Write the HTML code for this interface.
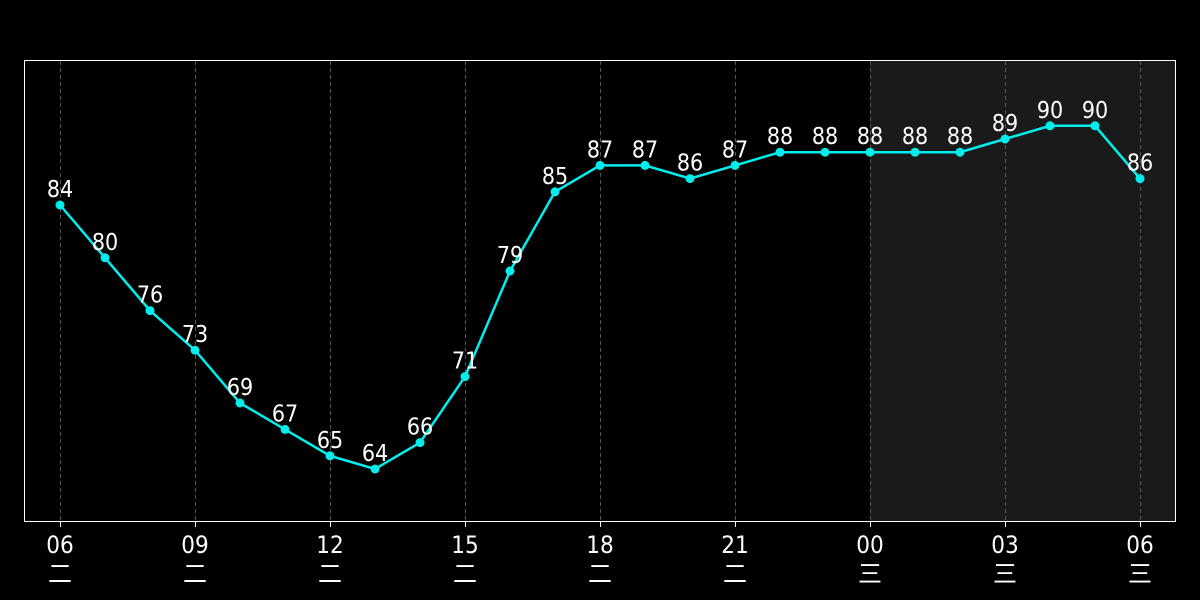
<!DOCTYPE html>
<html><head><meta charset="utf-8"><style>
html,body{margin:0;padding:0;background:#000;}
svg{display:block;font-family:"DejaVu Sans Condensed","DejaVu Sans","Noto Sans CJK SC",sans-serif;}
</style></head><body>
<svg id="chart" width="1200" height="600">
<rect x="870" y="61" width="306" height="460" fill="#1a1a1a"/>
<g id="grid"></g>
<rect x="24.5" y="60.5" width="1151" height="461" fill="none" stroke="#fff" stroke-width="1"/>
<g id="xaxis"></g>
<g id="series"></g>
</svg>
<script>
const values = [84,80,76,73,69,67,65,64,66,71,79,85,87,87,86,87,88,88,88,88,88,89,90,90,86];
const tickIdx = [0,3,6,9,12,15,18,21,24];
const tickHours = ["06","09","12","15","18","21","00","03","06"];
const tickDays = ["二","二","二","二","二","二","三","三","三"];
const NS="http://www.w3.org/2000/svg";
const xs = i => 60 + i*45;
const ys = v => 205 - (v-84)*13.2;
function mk(t,a,p){const e=document.createElementNS(NS,t);for(const k in a)e.setAttribute(k,a[k]);p.appendChild(e);return e;}
const grid=document.getElementById('grid'), xa=document.getElementById('xaxis'), s=document.getElementById('series');
tickIdx.forEach((ti,k)=>{
  const x=xs(ti)+0.5;
  const g=mk('line',{x1:x,x2:x,y1:61,y2:521,stroke:'#555','stroke-dasharray':'4,3','stroke-width':1},grid);
  
  
  const t=mk('line',{x1:x,x2:x,y1:521,y2:527,stroke:'#fff'},xa);
  
  
  const l=mk('text',{x:xs(ti),y:553,fill:'#fff','font-size':24,'text-anchor':'middle'},xa);
  l.textContent=tickHours[k];
  
  
  const d=mk('text',{x:xs(ti),y:582,fill:'#fff','font-size':24,'text-anchor':'middle'},xa);
  d.textContent=tickDays[k];
  
  
});
const pl=mk('polyline',{points:values.map((v,i)=>xs(i)+','+ys(v)).join(' '),fill:'none',stroke:'#00eeee','stroke-width':2.5},s);


values.forEach((v,i)=>{
  const c=mk('circle',{cx:xs(i),cy:ys(v),r:4.5,fill:'#00eeee'},s);
  
  
  const t=mk('text',{x:xs(i),y:ys(v)-8,fill:'#fff','font-size':23,'text-anchor':'middle'},s);
  t.textContent=v;
  
  
});
</script>
</body></html>
